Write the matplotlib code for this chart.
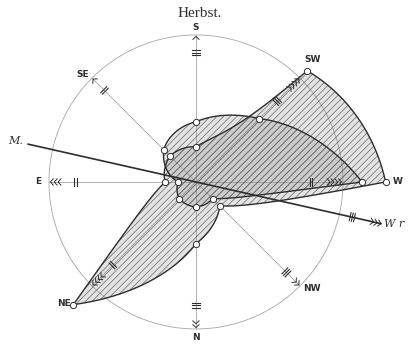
# %%
import matplotlib.pyplot as plt
import numpy as np

plt.rcParams["hatch.linewidth"] = 0.5

# %% data read off the wind rose ("Herbst.")
# order as drawn clockwise from the top: S is up, W to the right
directions = ["S", "SW", "W", "NW", "N", "NE", "E", "SE"]
bearings = [180, 225, 270, 315, 0, 45, 90, 135]

# radii in % of the circle radius
herbst_a = [24, 107, 129, 23, 42, 118, 21, 25]
herbst_b = [41, 61, 113, 16, 17, 16, 12, 31]

# curvature of the outline between neighbours (power mean exponent)
shape_a = [-2, 1, -0.9, 0, 0, -1, 1, 1]
shape_b = [-1, 0, -1, 1, 1, 1, 1, 3]

# force marks on the spokes
n_bars = [3, 3, 2, 3, 3, 2, 2, 2]
bar_r = [88, 78, 78, 87, 84, 80, 82, 88]
n_chev = [1, 4, 4, 2, 2, 4, 3, 1]
label_r = [105, 115, 137, 107, 106, 122, 107, 106]
label_tilt = [0, 1.2, 0, 2.6, 0, -2.3, 0, 1.6]

# mean direction line
mean_bearing = 282.7
mean_len = [117, 129]
mean_bars, mean_chev = 3, 3

ink = "#2e2e2e"
thin = "#a6a6a6"


def angle(b):
    return np.deg2rad(-90 - b)


def outline(radii, shapes, n=80):
    xs, ys = [], []
    for i in range(len(radii)):
        j = (i + 1) % len(radii)
        t = np.linspace(0, 1, n)
        ang = angle(bearings[i]) - np.deg2rad(45) * t
        r0, r1, p = radii[i], radii[j], shapes[i]
        if p == 0:
            r = r0 * (r1 / r0) ** t
        else:
            r = ((1 - t) * r0**p + t * r1**p) ** (1 / p)
        xs.append(r * np.cos(ang))
        ys.append(r * np.sin(ang))
    return np.concatenate(xs), np.concatenate(ys)


def chevrons(ax, ang, r_tip, n, step=2.6, depth=2.0, half=2.2):
    u = np.array([np.cos(ang), np.sin(ang)])
    v = np.array([-u[1], u[0]])
    for k in range(n):
        tip = (r_tip - k * step) * u
        back = tip - depth * u
        pts = np.array([back + half * v, tip, back - half * v])
        ax.plot(pts[:, 0], pts[:, 1], color=ink, lw=0.7, solid_capstyle="round", zorder=6)


def bars(ax, ang, r_mid, n, step=1.5, half=2.8):
    u = np.array([np.cos(ang), np.sin(ang)])
    v = np.array([-u[1], u[0]])
    for k in range(n):
        c = (r_mid + (k - (n - 1) / 2) * step) * u
        pts = np.array([c + half * v, c - half * v])
        ax.plot(pts[:, 0], pts[:, 1], color=ink, lw=0.8, zorder=6)


# %% figure
fig = plt.figure(figsize=(4.09, 3.45), dpi=100)
ax = fig.add_axes([0, 0, 1, 1])
ax.set_xlim(-133.3, 144.9)
ax.set_ylim(-110.9, 123.8)
ax.axis("off")

# circle and spokes
tt = np.linspace(0, 2 * np.pi, 400)
ax.plot(100 * np.cos(tt), 100 * np.sin(tt), color=thin, lw=0.6, zorder=1)
for b in bearings:
    a = angle(b)
    ax.plot([0, 100 * np.cos(a)], [0, 100 * np.sin(a)], color=thin, lw=0.6, zorder=1)

# the two roses, hatched; the overlap comes out darker
for radii, shapes in [(herbst_a, shape_a), (herbst_b, shape_b)]:
    x, y = outline(radii, shapes)
    ax.fill(x, y, facecolor=(0.5, 0.5, 0.5, 0.22), edgecolor="#6a6a6a",
            lw=0, hatch="/////", zorder=2)
    ax.plot(np.append(x, x[0]), np.append(y, y[0]), color=ink, lw=1.0, zorder=3)
    a = angle(np.array(bearings))
    ax.plot(np.array(radii) * np.cos(a), np.array(radii) * np.sin(a), "o",
            ms=4.5, mfc="white", mec=ink, mew=0.7, zorder=5)

# force marks and labels
for d, b, nb, rb, nc, rl, tl in zip(directions, bearings, n_bars, bar_r, n_chev,
                                    label_r, label_tilt):
    a = angle(b)
    bars(ax, a, rb, nb)
    chevrons(ax, a, 99, nc)
    al = a + np.deg2rad(tl)
    ax.text(rl * np.cos(al), rl * np.sin(al), d, ha="center", va="center",
            fontsize=6.5, fontweight="bold", color=ink)

# mean direction
a = angle(mean_bearing)
ax.plot([-mean_len[0] * np.cos(a), mean_len[1] * np.cos(a)],
        [-mean_len[0] * np.sin(a), mean_len[1] * np.sin(a)], color=ink, lw=1.2, zorder=4)
bars(ax, a, 109, mean_bars)
chevrons(ax, a, mean_len[1], mean_chev)
ax.text(-126 * np.cos(a), -126 * np.sin(a), "M.", ha="center", va="center",
        fontsize=8, style="italic", family="DejaVu Serif", color=ink)
ax.text(131 * np.cos(a), 131 * np.sin(a), "W r", ha="left", va="center",
        fontsize=8, style="italic", family="DejaVu Serif", color=ink)

fig.text(0.489, 0.962, "Herbst.", ha="center", va="center", fontsize=11,
         family="Liberation Serif", color=ink)

fig.savefig("out.png", dpi=100)
